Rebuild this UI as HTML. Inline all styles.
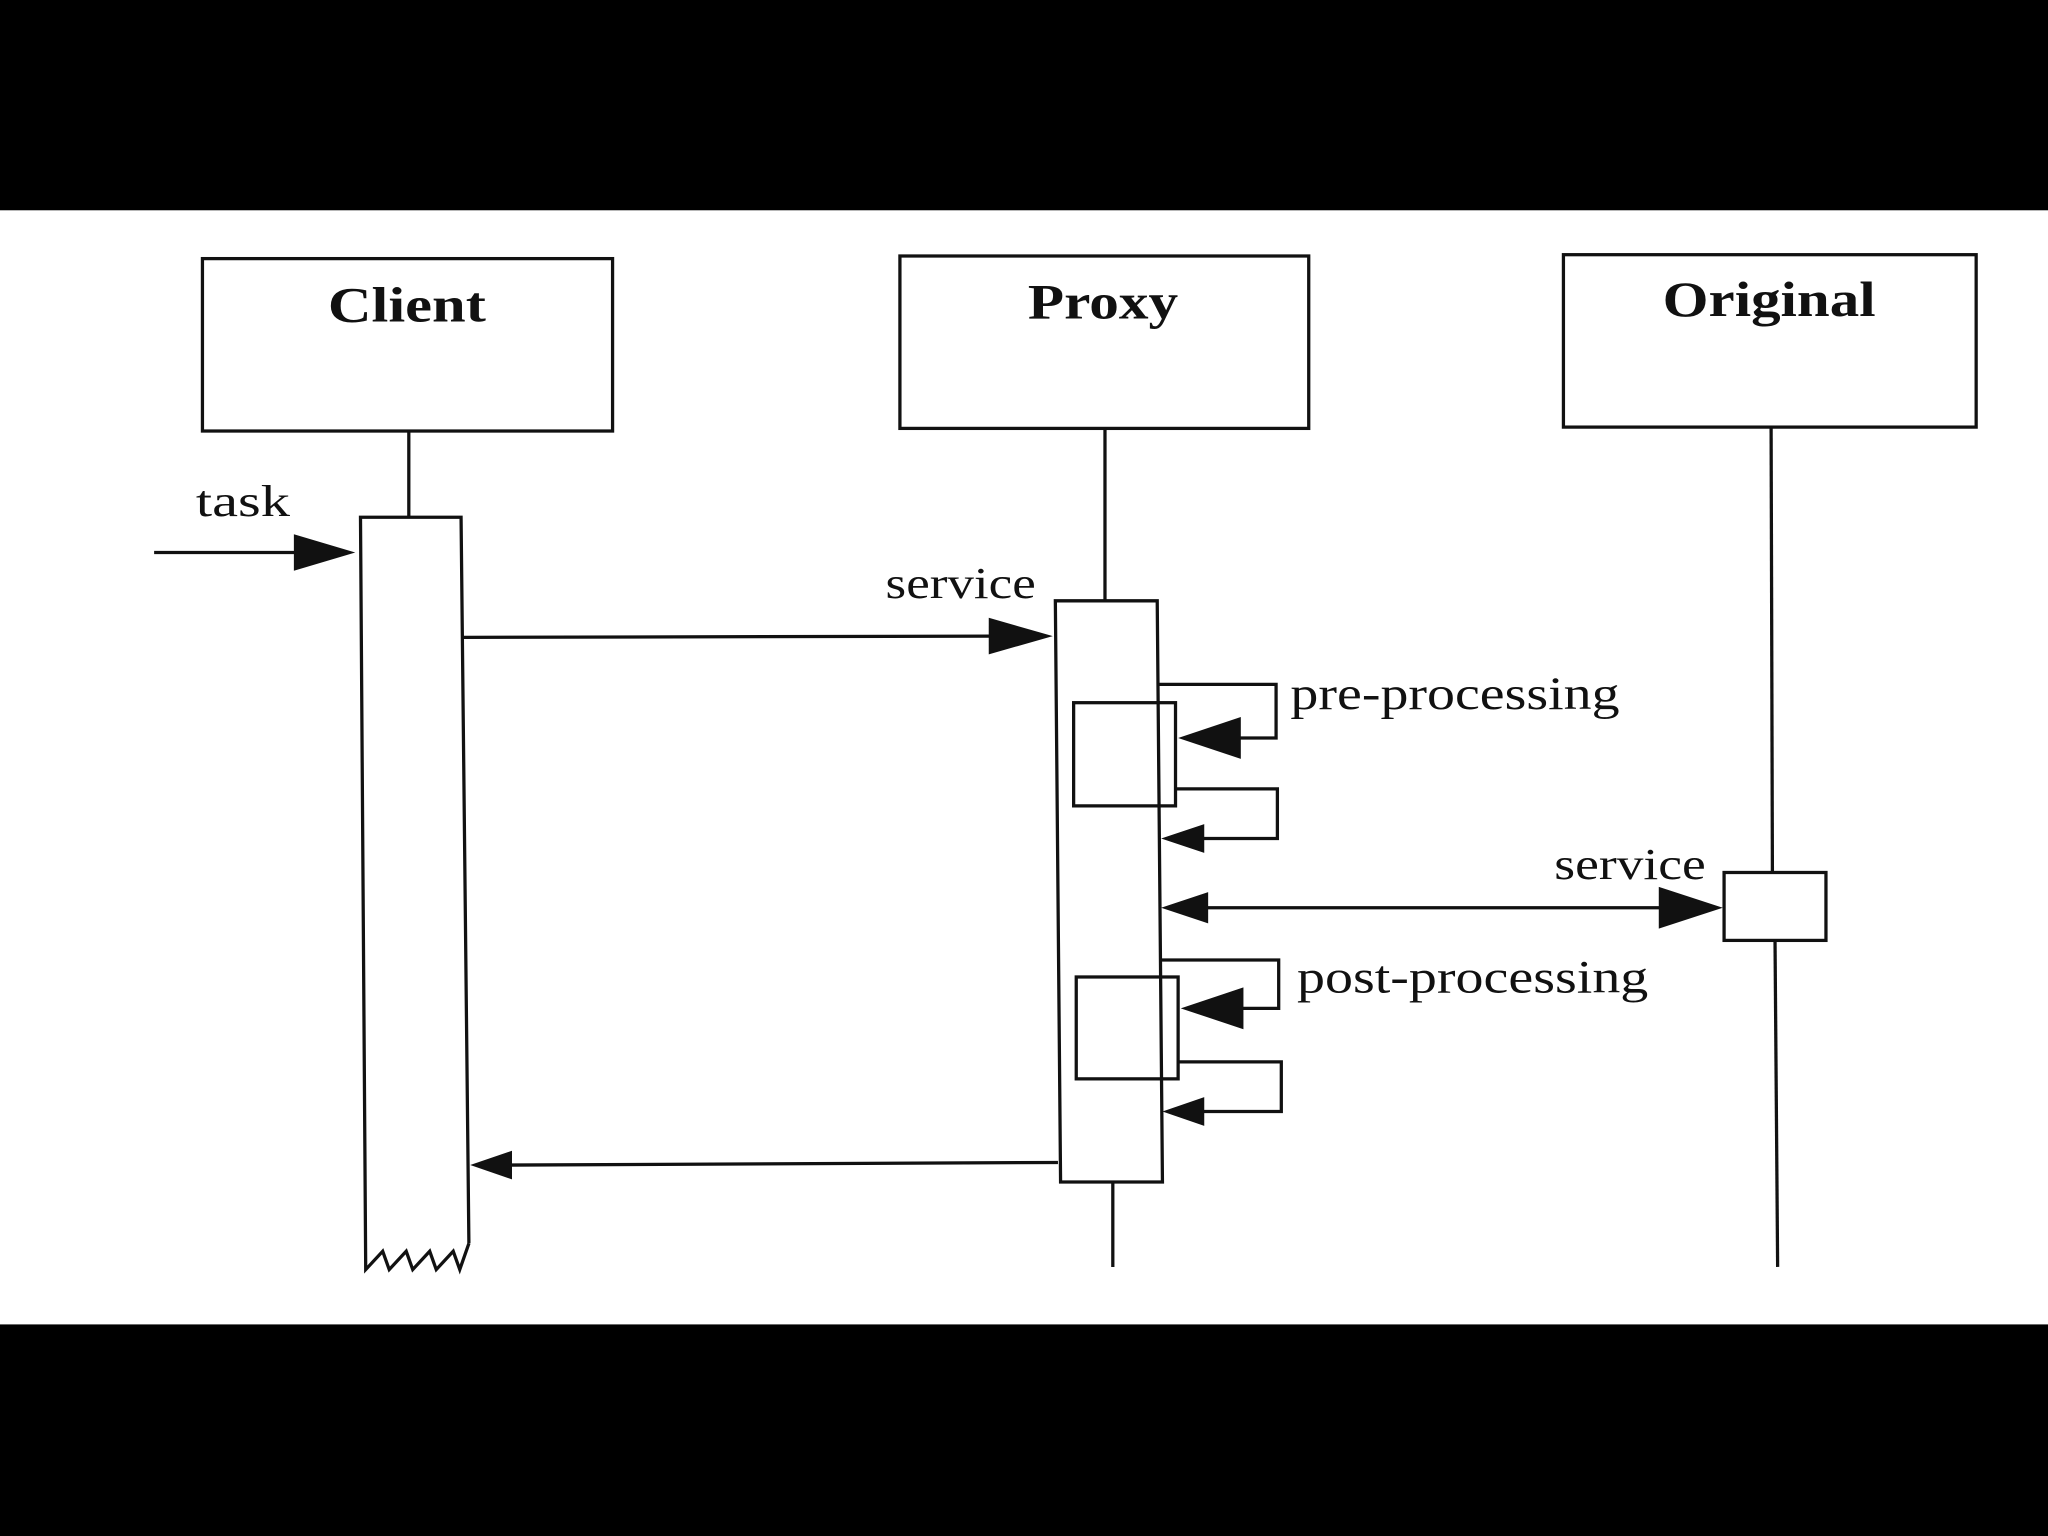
<!DOCTYPE html>
<html><head><meta charset="utf-8"><style>
html,body{margin:0;padding:0;background:#000;}
svg{display:block;}
</style></head><body>
<svg width="2048" height="1536" viewBox="0 0 1568 1176" xmlns="http://www.w3.org/2000/svg">
<rect x="0" y="0" width="1568" height="1176" fill="#000"/>
<rect x="0" y="161" width="1568" height="853" fill="#fff"/>
<g fill="none" stroke="#111" stroke-width="2.5">
<rect x="155" y="198" width="314" height="132"/>
<rect x="689" y="196" width="313" height="132"/>
<rect x="1197" y="195" width="316" height="132"/>
<line x1="313" y1="330" x2="313" y2="396"/>
<line x1="846" y1="328" x2="846" y2="460"/>
<line x1="852" y1="905" x2="852" y2="970"/>
<line x1="1356" y1="327" x2="1357" y2="668"/>
<line x1="1359" y1="720" x2="1361" y2="970"/>
<polyline points="359,952 353,396 276,396 280,972 293,958 298,972 311,958 316,972 329,958 334,972 347,958 352,972 359,952"/>
<polygon points="808,460 886,460 890,905 812,905"/>
<rect x="822" y="538" width="78" height="79"/>
<rect x="824" y="748" width="78" height="78"/>
<rect x="1320" y="668" width="78" height="52"/>
<line x1="118" y1="423" x2="230" y2="423"/>
<line x1="355" y1="488" x2="760" y2="487"/>
<polyline points="887,524 977,524 977,565 945,565"/>
<polyline points="900,604 978,604 978,642 915,642"/>
<line x1="915" y1="695" x2="1275" y2="695"/>
<polyline points="889,735 979,735 979,772 945,772"/>
<polyline points="902,813 981,813 981,851 915,851"/>
<line x1="810" y1="890" x2="390" y2="892"/>
</g>
<g fill="#111">
<polygon points="272,423 225,409 225,437"/>
<polygon points="806,487 757,473 757,501"/>
<polygon points="902,565 950,549 950,581"/>
<polygon points="889,642 922,631 922,653"/>
<polygon points="889,695 925,683 925,707"/>
<polygon points="1319,695 1270,679 1270,711"/>
<polygon points="904,772 952,756 952,788"/>
<polygon points="890,851 922,840 922,862"/>
<polygon points="360,892 392,881 392,903"/>
</g>
<g font-family="'Liberation Serif', serif" fill="#111" lengthAdjust="spacingAndGlyphs">
<text x="251" y="246" font-size="38" font-weight="bold" textLength="121" lengthAdjust="spacingAndGlyphs">Client</text>
<text x="787" y="244" font-size="38" font-weight="bold" textLength="115" lengthAdjust="spacingAndGlyphs">Proxy</text>
<text x="1273" y="242" font-size="38" font-weight="bold" textLength="163" lengthAdjust="spacingAndGlyphs">Original</text>
<text x="150" y="395" font-size="34" textLength="72" lengthAdjust="spacingAndGlyphs">task</text>
<text x="678" y="458" font-size="34" textLength="115" lengthAdjust="spacingAndGlyphs">service</text>
<text x="988" y="543" font-size="36" textLength="252" lengthAdjust="spacingAndGlyphs">pre-processing</text>
<text x="1190" y="673" font-size="34" textLength="116" lengthAdjust="spacingAndGlyphs">service</text>
<text x="993" y="760" font-size="36" textLength="269" lengthAdjust="spacingAndGlyphs">post-processing</text>
</g>
</svg>
</body></html>
